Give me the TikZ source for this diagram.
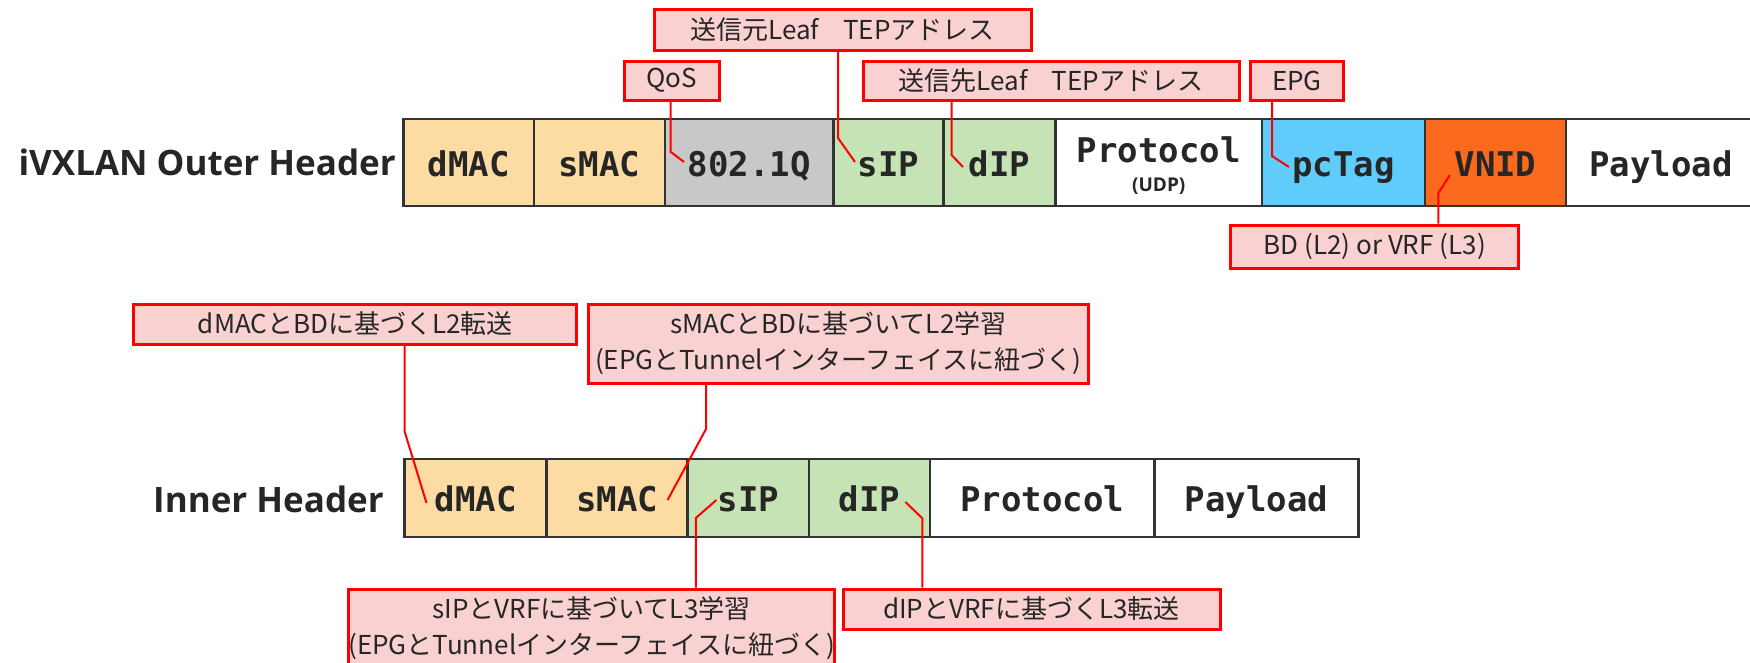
\documentclass[tikz,border=0pt]{standalone}
\usepackage{fontspec}
\newfontfamily\jpfont{Noto Sans CJK JP}
\newfontfamily\monofont{DejaVu Sans Mono}
\newfontfamily\headfont{Open Sans}
\definecolor{txtdark}{RGB}{38,38,38}
\definecolor{fieldline}{RGB}{51,51,51}
\definecolor{macfill}{RGB}{252,220,163}
\definecolor{qfill}{RGB}{200,200,200}
\definecolor{ipfill}{RGB}{197,227,180}
\definecolor{tagfill}{RGB}{96,204,252}
\definecolor{vnidfill}{RGB}{249,106,30}
\definecolor{notefill}{RGB}{249,209,209}
\definecolor{notered}{RGB}{255,0,0}
\begin{document}
\begin{tikzpicture}[x=1pt,y=-1pt,
  field/.style={draw=fieldline, line width=2.5pt, inner sep=0pt, text=txtdark,
    font=\monofont\bfseries\fontsize{34}{34}\selectfont, text height=27pt, text depth=0pt},
  note/.style={draw=notered, line width=3pt, fill=notefill, inner sep=0pt, text=txtdark,
    align=center, font=\jpfont\fontsize{26}{36}\selectfont},
  lead/.style={draw=notered, line width=2pt},
  header/.style={anchor=base east, inner sep=0pt, text=txtdark, font=\headfont\bfseries\fontsize{35}{35}\selectfont}]
\useasboundingbox (0,0) rectangle (1750,662);
% outer header
\node[header] (outerhd) at (396,175) {iVXLAN Outer Header};
\node[field, minimum height=87pt, minimum width=130.3pt, fill=macfill] (odmac) at (468.75,162.5) {dMAC};
\node[field, minimum height=87pt, minimum width=130.9pt, fill=macfill] (osmac) at (599.35,162.5) {sMAC};
\node[field, minimum height=87pt, minimum width=168.7pt, fill=qfill] (odot) at (749.15,162.5) {802.1Q};
\node[field, minimum height=87pt, minimum width=110.1pt, fill=ipfill] (osip) at (888.55,162.5) {sIP};
\node[field, minimum height=87pt, minimum width=111.9pt, fill=ipfill] (odip) at (999.55,162.5) {dIP};
\node[field, minimum height=87pt, minimum width=206.5pt, fill=white] (oproto) at (1158.75,162.5) {};
\node[field, draw=none] (oprototxt) at (1158.75,149) {Protocol};
\node[text=txtdark, inner sep=0pt, font=\headfont\bfseries\fontsize{19}{19}\selectfont] (oudp) at (1158.75,186) {(UDP)};
\node[field, minimum height=87pt, minimum width=163pt, fill=tagfill] (opctag) at (1343.5,162.5) {pcTag};
\node[field, minimum height=87pt, minimum width=141pt, fill=vnidfill] (ovnid) at (1495.5,162.5) {VNID};
\node[field, minimum height=87pt, minimum width=190pt, fill=white] (opay) at (1661,162.5) {Payload};
% inner header
\node[header] (innerhd) at (384,512) {Inner Header};
\node[field, minimum height=78pt, minimum width=141.8pt, fill=macfill] (idmac) at (475.6,498) {dMAC};
\node[field, minimum height=78pt, minimum width=141.2pt, fill=macfill] (ismac) at (617.1,498) {sMAC};
\node[field, minimum height=78pt, minimum width=121.3pt, fill=ipfill] (isip) at (748.35,498) {sIP};
\node[field, minimum height=78pt, minimum width=121pt, fill=ipfill] (idip) at (869.5,498) {dIP};
\node[field, minimum height=78pt, minimum width=224.5pt, fill=white] (iproto) at (1042.25,498) {Protocol};
\node[field, minimum height=78pt, minimum width=204pt, fill=white] (ipay) at (1256.5,498) {Payload};
% callouts
\node[note, minimum width=377pt, minimum height=41pt] (nsrc) at (842.5,29.5) {送信元Leaf\hspace{24pt}TEPアドレス};
\node[note, minimum width=95pt, minimum height=39pt] (nqos) at (671.5,80.5) {QoS};
\node[note, minimum width=376pt, minimum height=39pt] (ndst) at (1051,80.5) {送信先Leaf\hspace{24pt}TEPアドレス};
\node[note, minimum width=93pt, minimum height=39pt] (nepg) at (1297,80.5) {EPG};
\node[note, minimum width=288pt, minimum height=43pt] (nbd) at (1374.7,246.5) {BD (L2) or VRF (L3)};
\node[note, minimum width=443pt, minimum height=40pt] (nlfwd) at (355.4,324) {dMACとBDに基づくL2転送};
\node[note, minimum width=500pt, minimum height=79pt] (nllearn) at (838.4,343.5) {sMACとBDに基づいてL2学習\\(EPGとTunnelインターフェイスに紐づく)};
\node[note, minimum width=473.6pt, minimum height=79pt] (nrlearn) at (591.6,628.5) {sIPとVRFに基づいてL3学習\\(EPGとTunnelインターフェイスに紐づく)};
\node[note, minimum width=377pt, minimum height=40pt] (nrfwd) at (1031.5,609) {dIPとVRFに基づくL3転送};
% leader lines
\coordinate (srcbend) at (838,138);
\coordinate (srctip) at (855,162);
\draw[lead] (nsrc.south -| srcbend) -- (srcbend) -- (srctip);
\coordinate (qosbend) at (670.5,151.7);
\coordinate (qostip) at (684,162);
\draw[lead] (nqos.south -| qosbend) -- (qosbend) -- (qostip);
\coordinate (dstbend) at (951.6,155);
\coordinate (dsttip) at (963,167);
\draw[lead] (ndst.south -| dstbend) -- (dstbend) -- (dsttip);
\coordinate (epgbend) at (1272,156);
\coordinate (epgtip) at (1289,167);
\draw[lead] (nepg.south -| epgbend) -- (epgbend) -- (epgtip);
\coordinate (bdbend) at (1438.4,193);
\coordinate (bdtip) at (1450,175);
\draw[lead] (nbd.north -| bdbend) -- (bdbend) -- (bdtip);
\coordinate (lfwdbend) at (404.7,431.7);
\coordinate (lfwdtip) at (426.5,503);
\draw[lead] (nlfwd.south -| lfwdbend) -- (lfwdbend) -- (lfwdtip);
\coordinate (llearnbend) at (706,429);
\coordinate (llearntip) at (667.6,500);
\draw[lead] (nllearn.south -| llearnbend) -- (llearnbend) -- (llearntip);
\coordinate (rlearnbend) at (695.8,518);
\coordinate (rlearntip) at (716.4,500);
\draw[lead] (nrlearn.north -| rlearnbend) -- (rlearnbend) -- (rlearntip);
\coordinate (rfwdbend) at (922.3,518.3);
\coordinate (rfwdtip) at (905.4,502);
\draw[lead] (nrfwd.north -| rfwdbend) -- (rfwdbend) -- (rfwdtip);
\end{tikzpicture}
\end{document}
